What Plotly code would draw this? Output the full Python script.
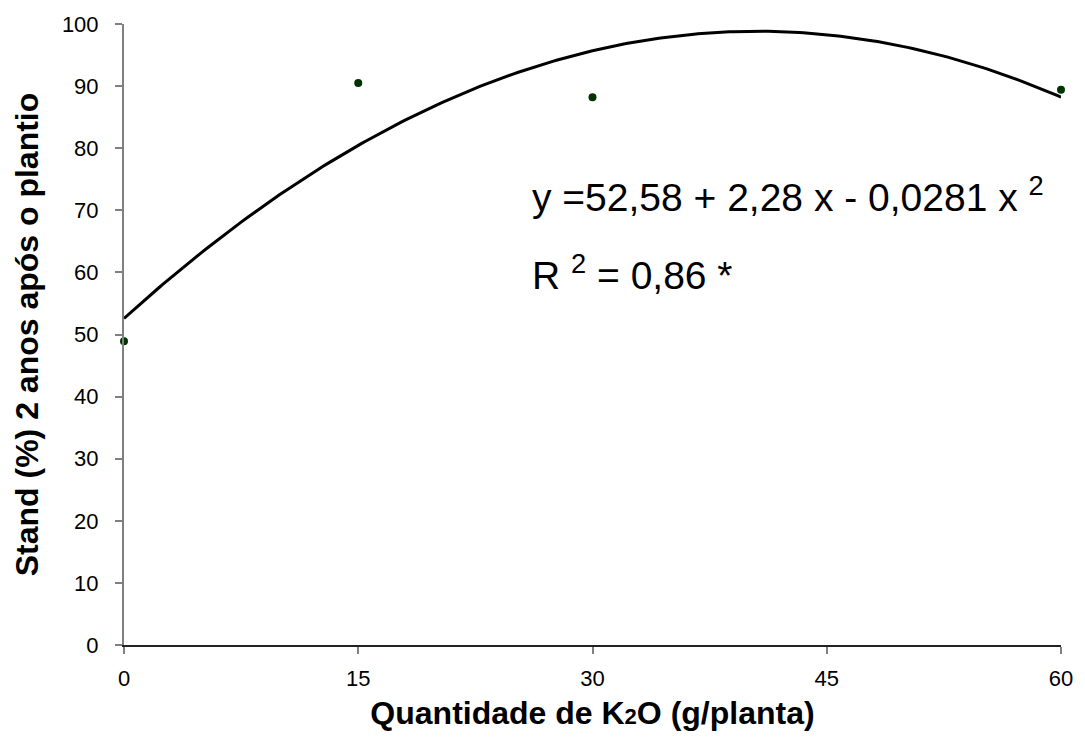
import numpy as np
import plotly.graph_objects as go

# Observed stand (%) two years after planting, by K2O dose (g/plant)
doses = [0, 15, 30, 60]
stand = [48.9, 90.5, 88.2, 89.4]

# Fitted quadratic: y = b0 + b1 x + b2 x^2
b0, b1, b2 = 52.58, 2.28, -0.0281
r2_text = "0,86"

x_fit = np.linspace(0, 60, 241)
y_fit = b0 + b1 * x_fit + b2 * x_fit ** 2

x_ticks = [0, 15, 30, 45, 60]
y_ticks = list(range(0, 101, 10))

FONT = "Liberation Sans, Arial, sans-serif"

fig = go.Figure()
fig.add_trace(go.Scatter(
    x=x_fit, y=y_fit, mode="lines",
    line=dict(color="black", width=3),
    hoverinfo="skip", showlegend=False,
))
fig.add_trace(go.Scatter(
    x=doses, y=stand, mode="markers",
    marker=dict(color="#003300", size=8),
    cliponaxis=False, showlegend=False,
))

fig.add_annotation(
    x=26.0, y=72.6, xref="x", yref="y", xanchor="left", yanchor="middle",
    text="y =52,58 + 2,28 x - 0,0281 x <sup>2</sup>",
    showarrow=False, font=dict(family=FONT, size=39, color="black"),
)
fig.add_annotation(
    x=26.0, y=60.0, xref="x", yref="y", xanchor="left", yanchor="middle",
    text="R <sup>2</sup> = " + r2_text + " *",
    showarrow=False, font=dict(family=FONT, size=39, color="black"),
)

fig.update_layout(
    width=1085, height=742,
    margin=dict(l=124, r=18, t=24, b=97),
    paper_bgcolor="white", plot_bgcolor="white",
    font=dict(family=FONT, color="black"),
    xaxis=dict(
        range=[0, 60], tickvals=x_ticks, ticktext=[str(v) for v in x_ticks],
        showline=True, linecolor="#222222", linewidth=2,
        ticks="outside", ticklen=7, tickcolor="#808080", tickwidth=2,
        ticklabelstandoff=6,
        showgrid=False, zeroline=False,
        tickfont=dict(size=22, family=FONT),
        title=dict(
            text="<b>Quantidade de K<span style='font-size:22px'>2</span>O (g/planta)</b>",
            font=dict(size=32, family=FONT), standoff=11,
        ),
    ),
    yaxis=dict(
        range=[0, 100], tickvals=y_ticks, ticktext=[str(v) for v in y_ticks],
        showline=True, linecolor="#808080", linewidth=2,
        ticks="outside", ticklen=7, tickcolor="#808080", tickwidth=2,
        ticklabelstandoff=12,
        showgrid=False, zeroline=False,
        tickfont=dict(size=22, family=FONT),
        title=dict(
            text="<b>Stand (%) 2 anos após o plantio</b>",
            font=dict(size=32, family=FONT), standoff=14,
        ),
    ),
)

fig.write_html("out.html")
